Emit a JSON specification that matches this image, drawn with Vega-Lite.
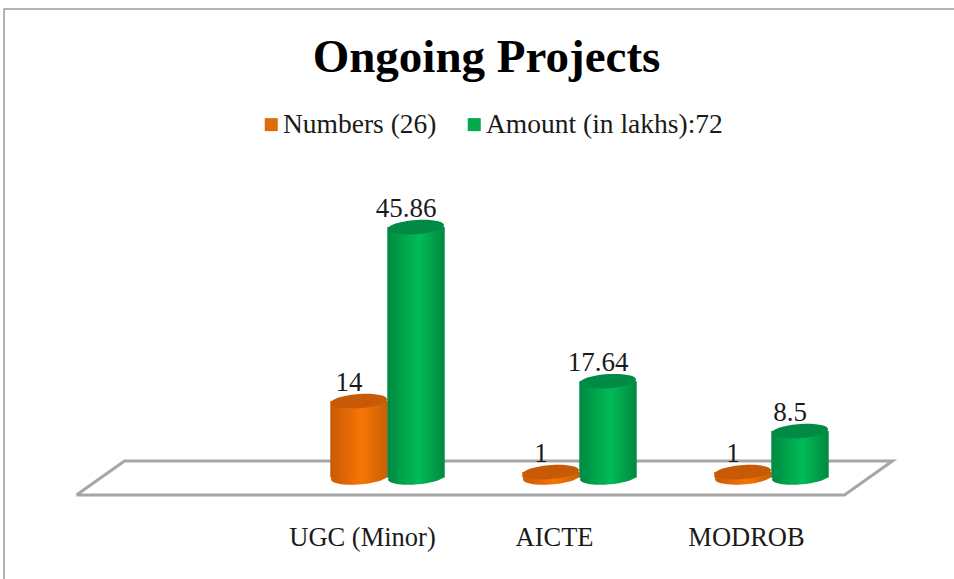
{
"$schema":"https://vega.github.io/schema/vega-lite/v6.json",
"autosize":"none",
"padding":{"left":99.5,"top":204.5,"right":86.5,"bottom":101.5},
"width":768,"height":273,
"background":"white",
"config":{"view":{"stroke":null}},
"title":{"text":"Ongoing Projects","font":"Liberation Serif","fontSize":47,"fontWeight":"bold","color":"#000000","anchor":"middle","orient":"top","offset":0,"baseline":"alphabetic","dy":113,"dx":3},
"datasets":{
"bars":[
{"category":"UGC (Minor)","series":"Numbers (26)","value":14},
{"category":"UGC (Minor)","series":"Amount (in lakhs):72","value":45.86},
{"category":"AICTE","series":"Numbers (26)","value":1},
{"category":"AICTE","series":"Amount (in lakhs):72","value":17.64},
{"category":"MODROB","series":"Numbers (26)","value":1},
{"category":"MODROB","series":"Amount (in lakhs):72","value":8.5}
],
"outline":[
{"part":"floor","o":0,"px":-0.12,"py":-3.2},
{"part":"floor","o":1,"px":0.13,"py":3.02},
{"part":"floor","o":2,"px":4.13,"py":3.02},
{"part":"floor","o":3,"px":3.88,"py":-3.2},
{"part":"floor","o":4,"px":-0.12,"py":-3.2}
],
"frame":[
{"part":"frame","o":0,"px":-0.497,"py":-19},
{"part":"frame","o":1,"px":-0.497,"py":85.8},
{"part":"frame","o":2,"px":4.46,"py":85.8}
]
},
"layer":[
{"data":{"name":"frame"},"mark":{"type":"line","stroke":"#9a9a9a","strokeWidth":1.5,"clip":false},
 "encoding":{"x":{"field":"px","type":"quantitative","scale":{"domain":[0,4],"nice":false,"zero":false},"axis":null},
 "y":{"field":"py","type":"quantitative","scale":{"domain":[0,50],"nice":false},"axis":null},"order":{"field":"o"}}},
{"data":{"name":"outline"},"mark":{"type":"line","stroke":"#a6a6a6","strokeWidth":3,"clip":false},
 "encoding":{"x":{"field":"px","type":"quantitative","scale":{"domain":[0,4],"nice":false,"zero":false},"axis":null},
 "y":{"field":"py","type":"quantitative","scale":{"domain":[0,50],"nice":false},"axis":null},"order":{"field":"o"}}},
{"data":{"name":"bars"},
 "encoding":{
  "x":{"field":"category","type":"nominal","scale":{"domain":["","UGC (Minor)","AICTE","MODROB"],"paddingInner":0,"paddingOuter":0},
   "axis":{"title":null,"domain":false,"ticks":false,"grid":false,"labelAngle":0,"labelFont":"Liberation Serif","labelFontSize":26.5,"labelColor":"#1a1a1a","labelPadding":47,"labelOffset":-25}},
  "xOffset":{"field":"series","type":"nominal","scale":{"domain":["Numbers (26)","Amount (in lakhs):72"],"paddingInner":0,"paddingOuter":0.684}},
  "y":{"field":"value","type":"quantitative","scale":{"domain":[0,50],"nice":false},"axis":null}
 },
 "layer":[
 {"mark":{"type":"bar"},
  "encoding":{"color":{"field":"series","type":"nominal","scale":{"domain":["Numbers (26)","Amount (in lakhs):72"],"range":["#df6c0c","#06a94f"]},
   "legend":{"title":null,"orient":"none","legendX":158,"legendY":-94,"direction":"horizontal","symbolType":"square","symbolSize":170,"symbolStrokeWidth":0,"labelFont":"Liberation Serif","labelFontSize":27.5,"labelColor":"#1a1a1a","labelOffset":-2,"labelLimit":400,"columnPadding":23,"symbolOpacity":1}}}},
 {"transform":[{"filter":"datum.series==='Numbers (26)'"}],"mark":{"type":"point","shape":"M-1,0.06 A1,0.25 -4 1,0 1,-0.06 A1,0.25 -4 1,0 -1,0.06 Z","size":3136,"filled":true,"opacity":1,"fill":{"gradient":"linear","x1":0,"y1":0,"x2":1,"y2":0,"stops":[{"offset":0,"color":"#c85a04"},{"offset":0.55,"color":"#f87506"},{"offset":1,"color":"#c85f04"}]}},
  "encoding":{"y":{"datum":0}}},
 {"transform":[{"filter":"datum.series==='Numbers (26)'"}],"mark":{"type":"bar","fill":{"gradient":"linear","x1":0,"y1":0,"x2":1,"y2":0,"stops":[{"offset":0,"color":"#c85a04"},{"offset":0.55,"color":"#f87506"},{"offset":1,"color":"#c85f04"}]}}},
 {"transform":[{"filter":"datum.series!=='Numbers (26)'"}],"mark":{"type":"point","shape":"M-1,0.06 A1,0.25 -4 1,0 1,-0.06 A1,0.25 -4 1,0 -1,0.06 Z","size":3136,"filled":true,"opacity":1,"fill":{"gradient":"linear","x1":0,"y1":0,"x2":1,"y2":0,"stops":[{"offset":0,"color":"#008a42"},{"offset":0.55,"color":"#00bb55"},{"offset":1,"color":"#008a42"}]}},
  "encoding":{"y":{"datum":0}}},
 {"transform":[{"filter":"datum.series!=='Numbers (26)'"}],"mark":{"type":"bar","fill":{"gradient":"linear","x1":0,"y1":0,"x2":1,"y2":0,"stops":[{"offset":0,"color":"#008a42"},{"offset":0.55,"color":"#00bb55"},{"offset":1,"color":"#008a42"}]}}},
 {"mark":{"type":"point","shape":"M-1,0.06 A1,0.25 -4 1,0 1,-0.06 A1,0.25 -4 1,0 -1,0.06 Z","size":3136,"filled":true,"opacity":1},
  "encoding":{"color":{"condition":{"test":"datum.series==='Numbers (26)'","value":"#c85a05"},"value":"#008a45"}}},
 {"mark":{"type":"text","font":"Liberation Serif","fontSize":27,"color":"#1a1a1a","baseline":"alphabetic","align":"center","dy":-10,"dx":-10},
  "encoding":{"text":{"field":"value","type":"quantitative"}}}
 ]
}
],
"resolve":{"scale":{"x":"independent"}}
}
